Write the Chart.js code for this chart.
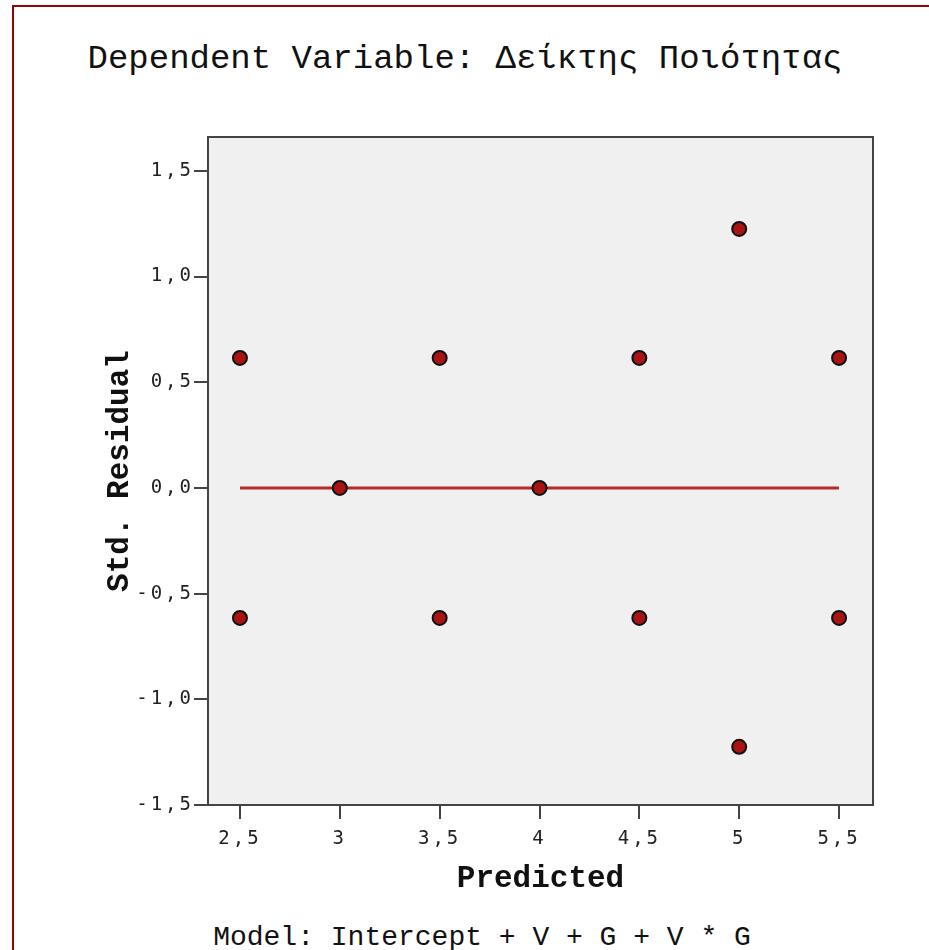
<!DOCTYPE html>
<html>
<head>
<meta charset="utf-8">
<script src="https://cdn.jsdelivr.net/npm/chart.js@4.4.7/dist/chart.umd.min.js"></script>
<style>
  html, body { margin: 0; padding: 0; background: #fff; }
  #page { position: relative; width: 929px; height: 950px; overflow: hidden; }
  #frame {
    position: absolute; left: 12px; top: 5px; width: 940px; height: 960px;
    border-top: 2px solid #990000; border-left: 2px solid #990000;
  }
  .txt {
    position: absolute; font-family: 'Liberation Mono', 'Courier New', monospace;
    color: #111; white-space: nowrap; transform: translateX(-50%);
  }
  #title { left: 465px; top: 42px; font-size: 34px; line-height: 34px; }
  #footer { left: 482px; top: 924px; font-size: 28px; line-height: 28px; }
  #wrap { position: absolute; left: 0; top: 0; width: 929px; height: 950px; }
</style>
</head>
<body>
<div id="page">
  <div id="frame"></div>
  <div id="title" class="txt">Dependent Variable: Δείκτης Ποιότητας</div>
  <div id="footer" class="txt">Model: Intercept + V + G + V * G</div>
  <div id="wrap"><canvas id="residChart" width="929" height="950"></canvas></div>
</div>
<script>
// ===== データ =====
const predicted = [2.5, 2.5, 3, 3.5, 3.5, 4, 4.5, 4.5, 5, 5, 5.5, 5.5];
const stdResidual = [0.615, -0.615, 0, 0.615, -0.615, 0, 0.615, -0.615, 1.225, -1.225, 0.615, -0.615];
const fitX = [2.5, 5.5];
const fitY = [0, 0];
const xTicks = [2.5, 3, 3.5, 4, 4.5, 5, 5.5];
const xTickLabels = ['2,5', '3', '3,5', '4', '4,5', '5', '5,5'];
const yTicks = [-1.5, -1, -0.5, 0, 0.5, 1, 1.5];
const yTickLabels = ['-1,5', '-1,0', '-0,5', '0,0', '0,5', '1,0', '1,5'];

function tickLabel(values, labels, v) {
  const i = values.findIndex(t => Math.abs(t - v) < 1e-6);
  return i >= 0 ? labels[i] : '';
}

// ===== プロット領域の背景と枠 =====
const plotFrame = {
  id: 'plotFrame',
  beforeDraw(chart) {
    const { ctx, chartArea: a } = chart;
    ctx.save();
    ctx.letterSpacing = '0px';
    ctx.fillStyle = '#f0f0f0';
    ctx.fillRect(a.left, a.top, a.right - a.left, a.bottom - a.top);
    ctx.restore();
  },
  beforeDatasetsDraw(chart) {
    const { ctx, chartArea: a } = chart;
    ctx.save();
    ctx.strokeStyle = '#444';
    ctx.lineWidth = 2;
    ctx.strokeRect(a.left, a.top, a.right - a.left, a.bottom - a.top);
    ctx.restore();
  },
  afterDatasetsDraw(chart) {
    // 目盛りラベルだけ字間を広げる（ラベルは z:1 で後から描かれる）
    chart.ctx.letterSpacing = '3px';
  },
  afterDraw(chart) {
    chart.ctx.letterSpacing = '0px';
  }
};

const tickFont = { family: "'DejaVu Sans Mono', monospace", size: 19 };
const titleFont = { family: "'Liberation Mono', 'Courier New', monospace", size: 31, weight: 'bold' };

new Chart(document.getElementById('residChart').getContext('2d'), {
  type: 'scatter',
  data: {
    datasets: [
      {
        label: 'fit',
        type: 'line',
        data: fitX.map((x, i) => ({ x: x, y: fitY[i] })),
        borderColor: '#b52b2b',
        borderWidth: 3,
        pointRadius: 0,
        fill: false,
        order: 2
      },
      {
        label: 'residuals',
        data: predicted.map((x, i) => ({ x: x, y: stdResidual[i] })),
        backgroundColor: '#a81414',
        borderColor: '#111',
        borderWidth: 2,
        pointRadius: 7,
        order: 1
      }
    ]
  },
  options: {
    responsive: false,
    animation: false,
    layout: { padding: { left: 102, top: 137, right: 56, bottom: 52 } },
    plugins: {
      legend: { display: false },
      tooltip: { enabled: false }
    },
    scales: {
      x: {
        type: 'linear',
        min: 2.34,
        max: 5.67,
        afterFit: s => { s.height = 93; },
        border: { display: false },
        grid: { drawOnChartArea: false, tickLength: 14, tickColor: '#444', lineWidth: 2 },
        ticks: {
          stepSize: 0.5,
          includeBounds: false,
          padding: 9,
          z: 1,
          color: '#222',
          font: tickFont,
          maxRotation: 0,
          autoSkip: false,
          callback: v => tickLabel(xTicks, xTickLabels, v)
        },
        title: { display: true, text: 'Predicted', color: '#111', font: titleFont, padding: 0 }
      },
      y: {
        min: -1.5,
        max: 1.66,
        afterFit: s => { s.width = 106; },
        border: { display: false },
        grid: { drawOnChartArea: false, tickLength: 14, tickColor: '#444', lineWidth: 2 },
        ticks: {
          stepSize: 0.5,
          includeBounds: false,
          padding: 0,
          z: 1,
          color: '#222',
          font: tickFont,
          autoSkip: false,
          callback: v => tickLabel(yTicks, yTickLabels, v)
        },
        title: { display: true, text: 'Std. Residual', color: '#111', font: titleFont, padding: 0 }
      }
    }
  },
  plugins: [plotFrame]
});
</script>
</body>
</html>
